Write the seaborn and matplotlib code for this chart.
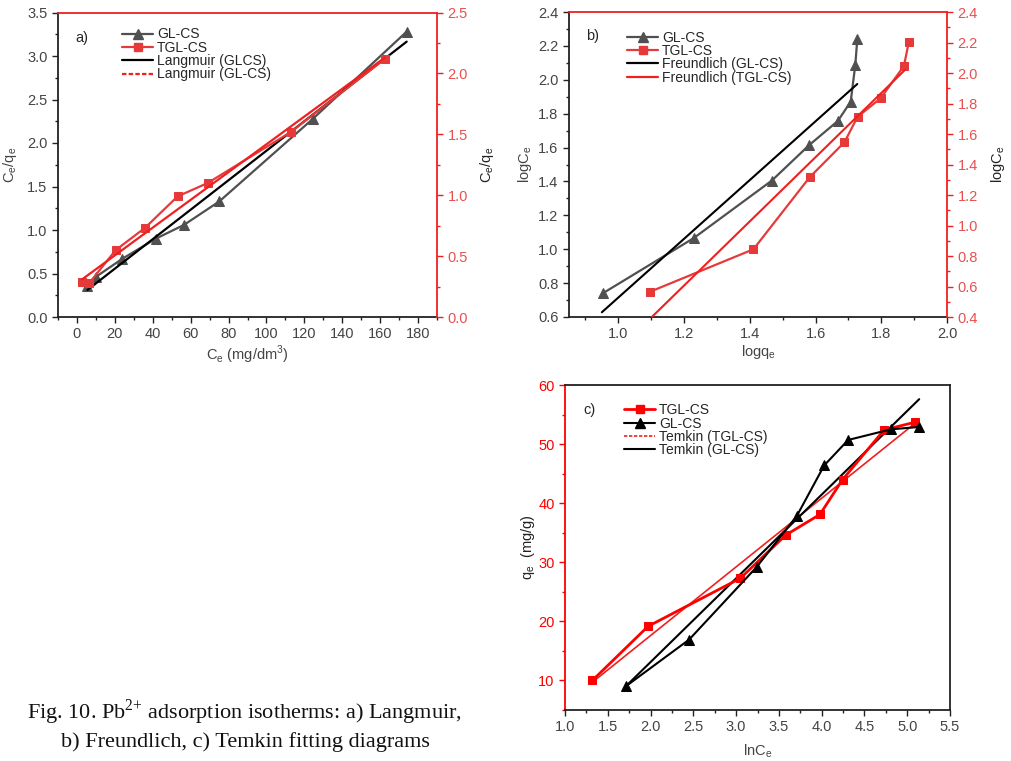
import numpy as np
import pandas as pd
import matplotlib
matplotlib.use("Agg")
import matplotlib.pyplot as plt
from matplotlib.lines import Line2D
from matplotlib.ticker import MultipleLocator
import seaborn as sns

# ---------------- data ----------------
# a) Langmuir
a_gl_x = [5.5, 9.9, 24.0, 41.6, 56.6, 75.2, 124.6, 174.0]
a_gl_y = [0.36, 0.46, 0.67, 0.90, 1.06, 1.33, 2.28, 3.28]
a_tgl_x = [2.8, 6.4, 20.5, 36.0, 53.1, 69.0, 113.0, 162.5]
a_tgl_y = [0.29, 0.277, 0.55, 0.733, 0.99, 1.10, 1.52, 2.12]
a_fit_gl_x = [5.5, 174.0]
a_fit_gl_y = [0.31, 3.165]
a_fit_tgl_x = [2.8, 162.5]
a_fit_tgl_y = [0.31, 2.13]

# b) Freundlich
b_gl_x = [0.953, 1.229, 1.467, 1.581, 1.668, 1.707, 1.721, 1.727]
b_gl_y = [0.74, 1.065, 1.405, 1.615, 1.757, 1.871, 2.087, 2.239]
b_tgl_x = [1.097, 1.411, 1.582, 1.688, 1.728, 1.798, 1.869, 1.884]
b_tgl_y = [0.566, 0.844, 1.316, 1.546, 1.713, 1.834, 2.046, 2.205]
b_fit_gl_x = [0.950, 1.727]
b_fit_gl_y = [0.628, 1.975]
b_fit_tgl_x = [1.102, 1.872]
b_fit_tgl_y = [0.40, 2.02]

# c) Temkin
c_tgl_x = [1.32, 1.97, 3.05, 3.58, 3.98, 4.245, 4.73, 5.09]
c_tgl_y = [10.0, 19.15, 27.3, 34.6, 38.1, 44.0, 52.4, 53.7]
c_gl_x = [1.71, 2.45, 3.24, 3.71, 4.03, 4.31, 4.81, 5.14]
c_gl_y = [9.0, 16.9, 29.2, 37.85, 46.4, 50.7, 52.5, 52.9]
c_fit_gl_x = [1.71, 5.14]
c_fit_gl_y = [9.0, 57.6]
c_fit_tgl_x = [1.32, 5.09]
c_fit_tgl_y = [9.7, 53.5]

caption = ["Fig. 10. Pb$^{\\mathregular{2{+}}}$ adsorption isotherms: a) Langmuir,",
           "b) Freundlich, c) Temkin fitting diagrams"]

# ---------------- style ----------------
sns.set_style("ticks")
plt.rcParams['font.family'] = ['Liberation Sans', 'DejaVu Sans']
plt.rcParams['font.size'] = 10
plt.rcParams['xtick.direction'] = 'out'
plt.rcParams['ytick.direction'] = 'out'

GRAY = '#505050'
RED = '#e63a3a'
RED_FIT = '#f02020'
RED_AX = '#e85050'
TXT = '#444444'
LEGFS = 10

W, H = 1011, 761
fig = plt.figure(figsize=(W / 100, H / 100), dpi=100)


def rect(l, r, t, b):
    return [l / W, 1 - b / H, (r - l) / W, (b - t) / H]


def style_axes(ax, ax2, xmaj, xmin, ymaj, ymin, y2maj, y2min):
    ax.xaxis.set_major_locator(MultipleLocator(xmaj))
    ax.xaxis.set_minor_locator(MultipleLocator(xmin))
    ax.yaxis.set_major_locator(MultipleLocator(ymaj))
    ax.yaxis.set_minor_locator(MultipleLocator(ymin))
    ax2.yaxis.set_major_locator(MultipleLocator(y2maj))
    ax2.yaxis.set_minor_locator(MultipleLocator(y2min))
    for s in ['left', 'bottom']:
        ax.spines[s].set_color('#222222')
        ax.spines[s].set_linewidth(1.3)
    ax2.spines['right'].set_color(RED_FIT)
    ax2.spines['top'].set_color(RED_FIT)
    ax2.spines['right'].set_linewidth(1.3)
    ax2.spines['top'].set_linewidth(1.3)
    ax2.spines['left'].set_visible(False)
    ax2.spines['bottom'].set_visible(False)
    ax.spines['top'].set_visible(False)
    ax.spines['right'].set_visible(False)
    ax.tick_params(axis='both', which='major', length=4, width=1.0, colors='#222222',
                   labelcolor=TXT, labelsize=10.5)
    ax.tick_params(axis='both', which='minor', length=2.5, width=1.0, colors='#222222')
    ax2.tick_params(axis='y', which='major', length=4, width=1.0, colors=RED_FIT,
                    labelcolor=RED_AX, labelsize=10.5)
    ax2.tick_params(axis='y', which='minor', length=2.5, width=1.0, colors=RED_FIT)


def sub(s):
    return s.replace('_e', '$_\\mathregular{e}$')

# ---------------- panel a ----------------
axa = fig.add_axes(rect(58, 437, 12.5, 317))
axa2 = axa.twinx()
sns.lineplot(x=a_gl_x, y=a_gl_y, ax=axa, color=GRAY, marker='^', markersize=7,
             markeredgecolor=GRAY, linewidth=1.6, sort=False)
sns.lineplot(x=a_fit_gl_x, y=a_fit_gl_y, ax=axa, color='black', linewidth=1.6)
sns.lineplot(x=a_tgl_x, y=a_tgl_y, ax=axa2, color=RED, marker='s', markersize=6,
             markeredgecolor=RED, linewidth=1.6, sort=False)
sns.lineplot(x=a_fit_tgl_x, y=a_fit_tgl_y, ax=axa2, color=RED_FIT, linewidth=1.6)
axa.set_xlim(-10, 190)
axa.set_ylim(0, 3.5)
axa2.set_ylim(0, 2.5)
style_axes(axa, axa2, 20, 10, 0.5, 0.25, 0.5, 0.25)
axa.set_xlabel(sub('C_e (mg/dm$^\\mathregular{3}$)'), color=TXT, fontsize=10.5, labelpad=2)
axa.set_ylabel(sub('C_e/q_e'), color=TXT, fontsize=10.5, labelpad=6)
axa2.set_ylabel(sub('C_e/q_e'), color='#222222', fontsize=10.5, labelpad=7)
axa.text(0.047, 0.915, 'a)', transform=axa.transAxes, fontsize=10.5, va='center')
ha = [Line2D([], [], color=GRAY, marker='^', markersize=7, lw=1.6),
      Line2D([], [], color=RED, marker='s', markersize=6, lw=1.6),
      Line2D([], [], color='black', lw=1.6),
      Line2D([], [], color=RED_FIT, lw=1.6, ls=(0, (2, 1)))]
axa2.legend(ha, ['GL-CS', 'TGL-CS', 'Langmuir (GLCS)', 'Langmuir (GL-CS)'],
            loc='upper left', bbox_to_anchor=(0.155, 0.969), frameon=False,
            fontsize=LEGFS, labelspacing=-0.05, handlelength=2.2, handletextpad=0.3,
            borderaxespad=0)

# ---------------- panel b ----------------
axb = fig.add_axes(rect(569, 947, 12, 317))
axb2 = axb.twinx()
sns.lineplot(x=b_gl_x, y=b_gl_y, ax=axb, color=GRAY, marker='^', markersize=7,
             markeredgecolor=GRAY, linewidth=1.6, sort=False)
sns.lineplot(x=b_fit_gl_x, y=b_fit_gl_y, ax=axb, color='black', linewidth=1.5)
sns.lineplot(x=b_tgl_x, y=b_tgl_y, ax=axb2, color=RED, marker='s', markersize=6,
             markeredgecolor=RED, linewidth=1.6, sort=False)
sns.lineplot(x=b_fit_tgl_x, y=b_fit_tgl_y, ax=axb2, color=RED_FIT, linewidth=1.5)
axb.set_xlim(0.85, 2.0)
axb.set_ylim(0.6, 2.4)
axb2.set_ylim(0.4, 2.4)
style_axes(axb, axb2, 0.2, 0.1, 0.2, 0.1, 0.2, 0.1)
axb.set_xlabel(sub('logq_e'), color=TXT, fontsize=10.5, labelpad=1)
axb.set_ylabel(sub('logC_e'), color=TXT, fontsize=10.5, labelpad=3)
axb2.set_ylabel(sub('logC_e'), color='#222222', fontsize=10.5, labelpad=8)
axb.text(0.045, 0.92, 'b)', transform=axb.transAxes, fontsize=10.5, va='center')
hb = [Line2D([], [], color=GRAY, marker='^', markersize=7, lw=1.6),
      Line2D([], [], color=RED, marker='s', markersize=6, lw=1.6),
      Line2D([], [], color='black', lw=1.6),
      Line2D([], [], color=RED_FIT, lw=1.6)]
axb2.legend(hb, ['GL-CS', 'TGL-CS', 'Freundlich (GL-CS)', 'Freundlich (TGL-CS)'],
            loc='upper left', bbox_to_anchor=(0.14, 0.957), frameon=False,
            fontsize=LEGFS, labelspacing=-0.05, handlelength=2.2, handletextpad=0.3,
            borderaxespad=0)

# ---------------- panel c ----------------
axc = fig.add_axes(rect(565, 950, 385, 710))
sns.lineplot(x=c_fit_tgl_x, y=c_fit_tgl_y, ax=axc, color=RED_FIT, linewidth=1.2)
sns.lineplot(x=c_fit_gl_x, y=c_fit_gl_y, ax=axc, color='black', linewidth=1.5)
sns.lineplot(x=c_tgl_x, y=c_tgl_y, ax=axc, color='#ff0000', marker='s', markersize=6,
             markeredgecolor='#ff0000', linewidth=2.0, sort=False)
sns.lineplot(x=c_gl_x, y=c_gl_y, ax=axc, color='black', marker='^', markersize=7,
             markeredgecolor='black', linewidth=1.5, sort=False)
axc.set_xlim(1.0, 5.5)
axc.set_ylim(5, 60)
axc.xaxis.set_major_locator(MultipleLocator(0.5))
axc.xaxis.set_minor_locator(MultipleLocator(0.25))
axc.yaxis.set_major_locator(MultipleLocator(10))
axc.yaxis.set_minor_locator(MultipleLocator(5))
for s in ['top', 'right', 'bottom']:
    axc.spines[s].set_color('#222222')
    axc.spines[s].set_linewidth(1.3)
axc.spines['left'].set_color('#ff0000')
axc.spines['left'].set_linewidth(1.3)
axc.tick_params(axis='x', which='major', length=4, width=1.0, colors='#222222',
                labelcolor=TXT, labelsize=10.5)
axc.tick_params(axis='x', which='minor', length=2.5, width=1.0, colors='#222222')
axc.tick_params(axis='y', which='major', length=4, width=1.0, colors='#ff0000',
                labelcolor='#ff0000', labelsize=10.5)
axc.tick_params(axis='y', which='minor', length=2.5, width=1.0, colors='#ff0000')
axc.set_xlabel(sub('lnC_e'), color=TXT, fontsize=10.5, labelpad=6)
axc.set_ylabel(sub('q_e  (mg/g)'), color='#222222', fontsize=10.5, labelpad=1)
axc.text(0.047, 0.923, 'c)', transform=axc.transAxes, fontsize=10.5, va='center')
hc = [Line2D([], [], color='#ff0000', marker='s', markersize=6, lw=2.0),
      Line2D([], [], color='black', marker='^', markersize=7, lw=1.5),
      Line2D([], [], color=RED_FIT, lw=1.2, ls=(0, (2, 1))),
      Line2D([], [], color='black', lw=1.5)]
axc.legend(hc, ['TGL-CS', 'GL-CS', 'Temkin (TGL-CS)', 'Temkin (GL-CS)'],
           loc='upper left', bbox_to_anchor=(0.14, 0.961), frameon=False,
           fontsize=LEGFS, labelspacing=-0.05, handlelength=2.2, handletextpad=0.3,
           borderaxespad=0)

# ---------------- caption ----------------
fig.text(245 / W, 1 - 719 / H, caption[0], ha='center', va='baseline',
         fontsize=16, family=['Liberation Serif', 'DejaVu Serif'], color='#111111')
fig.text(245 / W, 1 - 747 / H, caption[1], ha='center', va='baseline',
         fontsize=16, family=['Liberation Serif', 'DejaVu Serif'], color='#111111')

fig.savefig('out.png', dpi=100)
